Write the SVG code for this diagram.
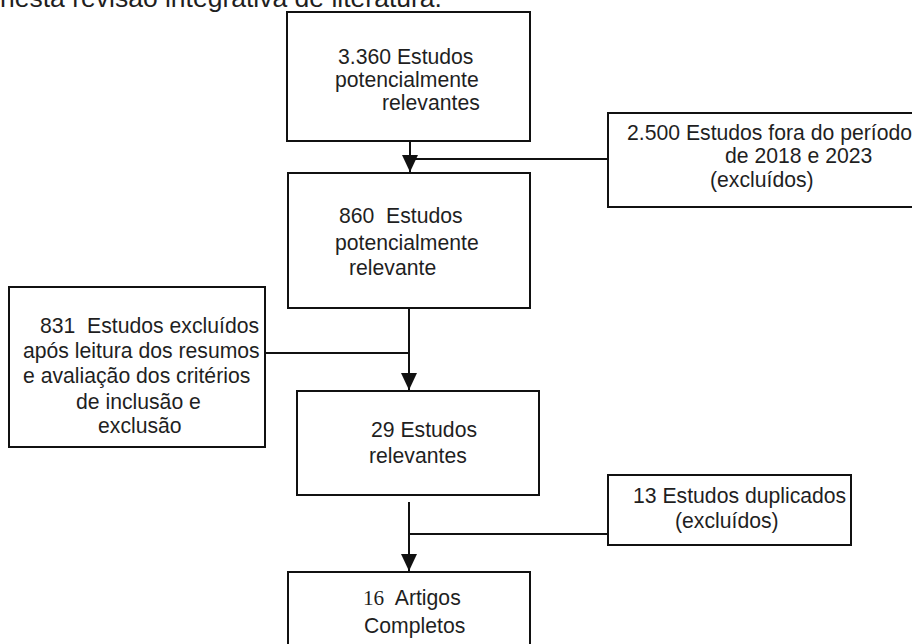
<svg xmlns="http://www.w3.org/2000/svg" width="912" height="644" viewBox="0 0 912 644">
<style>
.box{fill:#fff;stroke:#111;stroke-width:2}
.t{font-family:"Liberation Sans",Arial,sans-serif;font-size:21.2px;fill:#1f1f1f}
.title{font-family:"Liberation Sans",Arial,sans-serif;font-size:26.5px;fill:#1f1f1f}
.ser{font-family:"Liberation Serif","Times New Roman",serif}
.ln{fill:none;stroke:#111;stroke-width:2}
</style>
<defs>
<marker id="ah" markerUnits="userSpaceOnUse" markerWidth="18" markerHeight="18" refX="17" refY="8" orient="auto">
<path d="M0,0 L17,8 L0,16 Z" fill="#111"/>
</marker>
</defs>
<rect width="912" height="644" fill="#fff"/>
<text class="title" x="0" y="7">nesta revisão integrativa de literatura.</text>

<g id="connectors">
<line class="ln" x1="410" y1="141" x2="410" y2="172" marker-end="url(#ah)"/>
<line class="ln" x1="410" y1="159" x2="608" y2="159"/>
<line class="ln" x1="409" y1="308" x2="409" y2="390" marker-end="url(#ah)"/>
<line class="ln" x1="265" y1="353" x2="409" y2="353"/>
<line class="ln" x1="409" y1="502" x2="409" y2="571" marker-end="url(#ah)"/>
<line class="ln" x1="409" y1="534" x2="608" y2="534"/>
</g>

<g id="n1">
<rect class="box" x="287" y="12" width="243" height="129"/>
<text class="t" x="338" y="64">3.360 Estudos</text>
<text class="t" x="335" y="87">potencialmente</text>
<text class="t" x="382" y="110">relevantes</text>
</g>

<g id="n2">
<rect class="box" x="608" y="113" width="320" height="94"/>
<text class="t" x="627" y="140" xml:space="preserve">2.500 Estudos fora do período</text>
<text class="t" x="725" y="163">de 2018 e 2023</text>
<text class="t" x="710" y="187">(excluídos)</text>
</g>

<g id="n3">
<rect class="box" x="288" y="173" width="242" height="135"/>
<text class="t" x="339" y="223" xml:space="preserve">860  Estudos</text>
<text class="t" x="335" y="250">potencialmente</text>
<text class="t" x="349" y="275">relevante</text>
</g>

<g id="n4">
<rect class="box" x="9" y="287" width="256" height="160"/>
<text class="t" x="40" y="333" xml:space="preserve">831  Estudos excluídos</text>
<text class="t" x="23" y="358">após leitura dos resumos</text>
<text class="t" x="23" y="383">e avaliação dos critérios</text>
<text class="t" x="76" y="409">de inclusão e</text>
<text class="t" x="98" y="433">exclusão</text>
</g>

<g id="n5">
<rect class="box" x="297" y="391" width="242" height="104"/>
<text class="t" x="371" y="437">29 Estudos</text>
<text class="t" x="369" y="463">relevantes</text>
</g>

<g id="n6">
<rect class="box" x="608" y="475" width="243" height="70"/>
<text class="t" x="633" y="503">13 Estudos duplicados</text>
<text class="t" x="675" y="528">(excluídos)</text>
</g>

<g id="n7">
<rect class="box" x="288" y="572" width="242" height="90"/>
<text class="t" x="363" y="605" xml:space="preserve"><tspan class="ser">16</tspan>  Artigos</text>
<text class="t" x="364" y="633">Completos</text>
</g>
</svg>
